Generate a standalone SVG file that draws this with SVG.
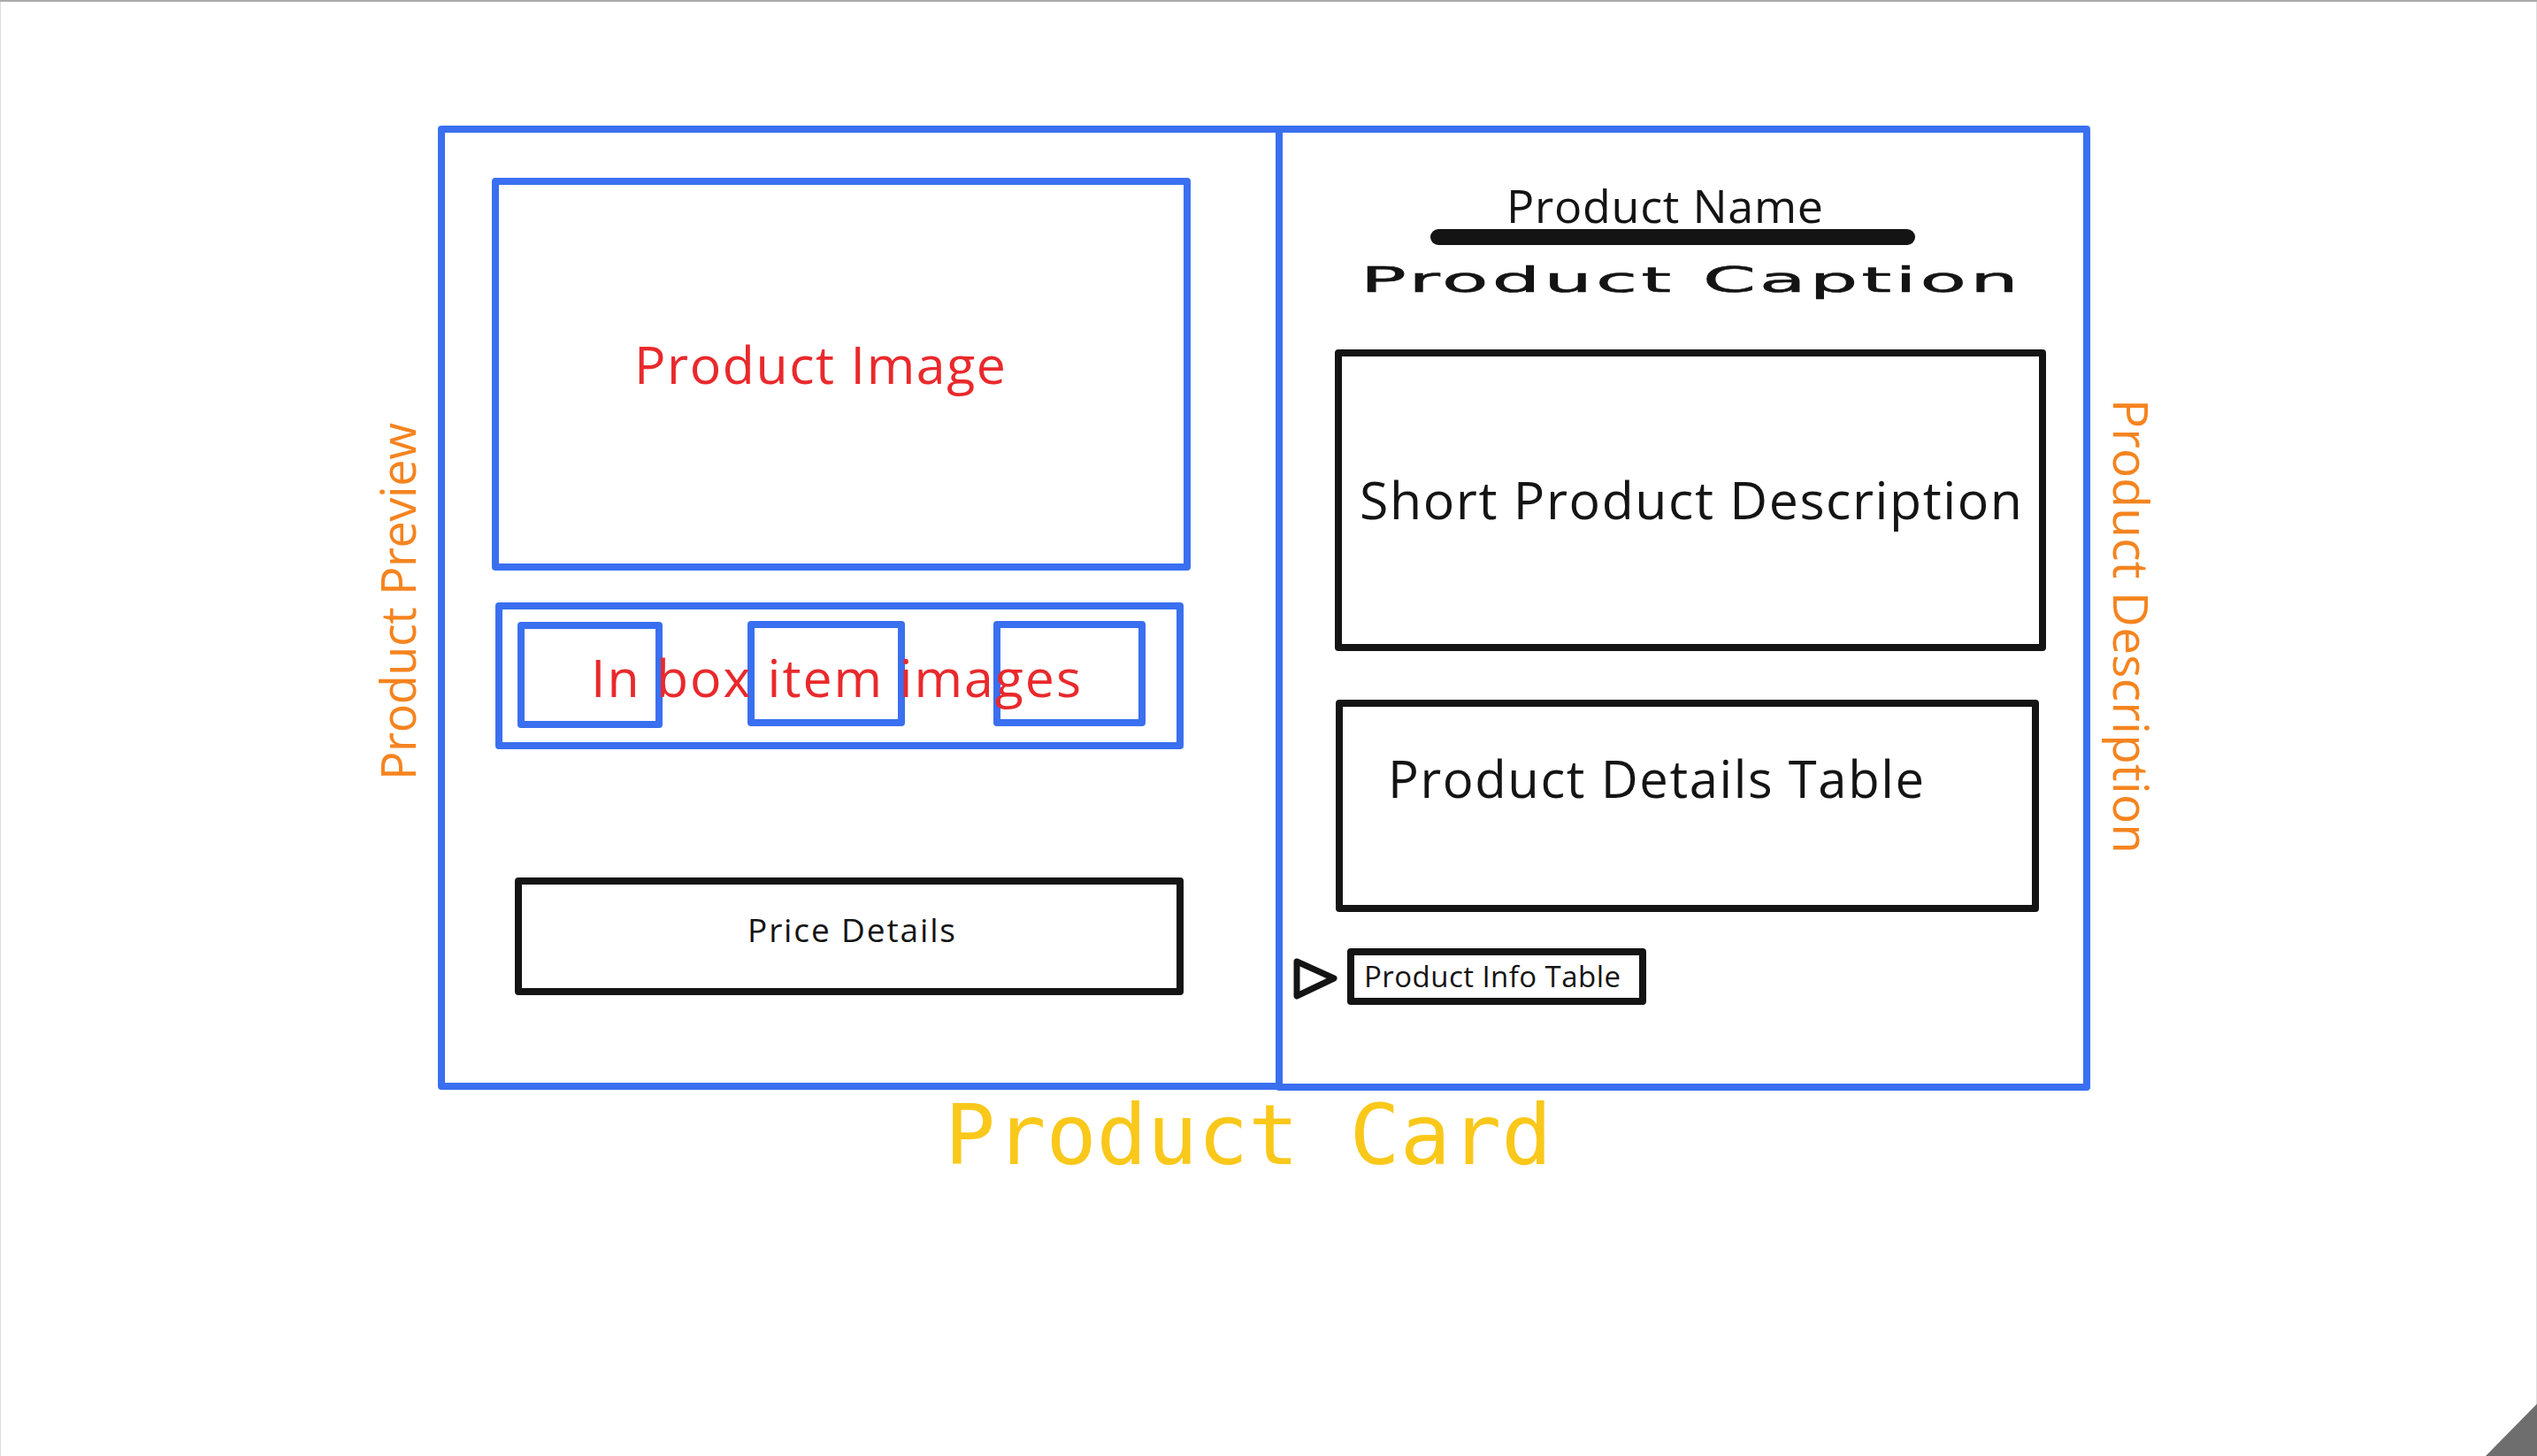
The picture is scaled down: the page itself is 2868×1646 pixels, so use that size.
<svg xmlns="http://www.w3.org/2000/svg" width="2868" height="1646" viewBox="0 0 2868 1646">
<style>
.blue{fill:none;stroke:#3a6ff0;stroke-width:8;stroke-linejoin:round}
.blk{fill:none;stroke:#141414;stroke-width:8;stroke-linejoin:round}
.red{fill:#e9292c;font-family:"Open Sans","Noto Sans",sans-serif}
.dark{fill:#141414;font-family:"Open Sans","Noto Sans",sans-serif}
.org{fill:#f5841f;font-family:"Open Sans","Noto Sans",sans-serif}
</style>
<rect x="0" y="0" width="2868" height="1646" fill="#ffffff"/>
<rect x="0" y="0" width="2868" height="2" fill="#aaaaaa"/>
<rect x="0" y="2" width="1" height="1644" fill="#dddddd"/>
<rect x="2867" y="2" width="1" height="1644" fill="#dddddd"/>
<polygon points="2810,1646 2868,1587 2868,1646" fill="#6e6e6e"/>

<g id="product-preview">
<rect class="blue" x="499" y="146" width="947" height="1082"/>
<text class="org" font-size="54" textLength="404" transform="translate(470,882) rotate(-90)">Product Preview</text>
</g>
<g id="product-description">
<rect class="blue" x="1446" y="146" width="913" height="1083"/>
<text class="org" font-size="55" textLength="514" transform="translate(2389,451) rotate(90)">Product Description</text>
</g>
<g id="product-image">
<rect class="blue" x="560" y="205" width="782" height="436"/>
<text class="red" x="717" y="434" font-size="59" textLength="420">Product Image</text>
</g>
<g id="in-box-items">
<rect class="blue" x="564" y="685" width="770" height="158"/>
<rect class="blue" x="589" y="707" width="156" height="112"/>
<rect class="blue" x="849" y="706" width="170" height="111"/>
<rect class="blue" x="1127" y="706" width="164" height="111"/>
<text class="red" x="668" y="788" font-size="59" textLength="554">In box item images</text>
</g>
<g id="price-details">
<rect class="blk" x="586" y="996" width="748" height="125"/>
<text class="dark" x="845" y="1065" font-size="37" textLength="235">Price Details</text>
</g>
<g id="product-name">
<text class="dark" x="1703" y="252" font-size="52" textLength="358">Product Name</text>
<line x1="1626" y1="268" x2="2156" y2="268" stroke="#141414" stroke-width="18" stroke-linecap="round"/>
</g>
<g id="product-caption">
<text fill="#141414" stroke="#141414" stroke-width="0.6" font-family="DejaVu Sans, sans-serif" font-size="39" textLength="338" transform="translate(1538,330) scale(2.2,1)">Product Caption</text>
</g>
<g id="short-description">
<rect class="blk" x="1513" y="399" width="796" height="333"/>
<text class="dark" x="1537" y="587" font-size="59" textLength="749">Short Product Description</text>
</g>
<g id="details-table">
<rect class="blk" x="1514" y="795" width="787" height="232"/>
<text class="dark" x="1569" y="902" font-size="58" textLength="606">Product Details Table</text>
</g>
<g id="info-table">
<rect class="blk" x="1527" y="1076" width="330" height="56" stroke-width="7"/>
<text class="dark" x="1542" y="1116" font-size="33" textLength="290">Product Info Table</text>
</g>
<g id="connectors">
<polygon points="1466,1087 1508,1106 1466,1126" fill="none" stroke="#141414" stroke-width="7" stroke-linejoin="round"/>
</g>
<g id="title">
<text x="1068" y="1316" font-family="DejaVu Sans Mono, monospace" font-size="95" fill="#f9c81a">Product Card</text>
</g>
</svg>
